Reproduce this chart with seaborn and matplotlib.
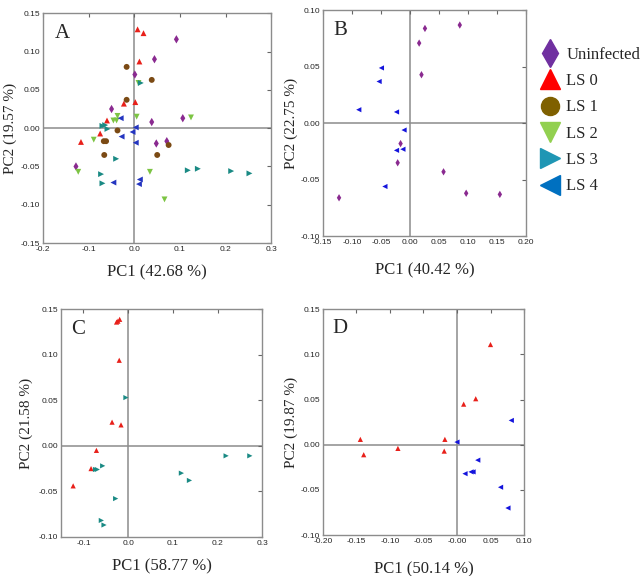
import pandas as pd
import numpy as np
import matplotlib
matplotlib.use("Agg")
import matplotlib.pyplot as plt
from matplotlib.lines import Line2D
from matplotlib.ticker import FormatStrFormatter
import seaborn as sns

sns.set_style("white")
plt.rcParams['font.family'] = ['Liberation Serif', 'DejaVu Serif']

groups = ["Uninfected", "LS 0", "LS 1", "LS 2", "LS 3", "LS 4"]

# Panel A scores (PC1, PC2) per group
a_uninf_x = [0.092, 0.044, 0.001, -0.050, 0.038, 0.106, 0.048, 0.071, -0.128]
a_uninf_y = [0.116, 0.090, 0.070, 0.025, 0.008, 0.013, -0.020, -0.017, -0.050]
a_ls0_x = [0.007, 0.020, 0.011, 0.002, -0.023, -0.060, -0.075, -0.117]
a_ls0_y = [0.129, 0.124, 0.087, 0.034, 0.032, 0.010, -0.007, -0.018]
a_ls1_x = [-0.017, 0.038, -0.017, -0.037, -0.067, -0.062, -0.066, 0.050, 0.075]
a_ls1_y = [0.080, 0.063, 0.037, -0.003, -0.017, -0.017, -0.035, -0.035, -0.022]
a_ls2_x = [0.009, -0.037, -0.046, -0.039, 0.005, 0.124, -0.089, -0.123, 0.034, 0.066]
a_ls2_y = [0.059, 0.016, 0.010, 0.010, 0.015, 0.014, -0.015, -0.057, -0.057, -0.093]
a_ls3_x = [0.014, -0.070, -0.064, -0.059, -0.040, -0.073, -0.070, 0.117, 0.139, 0.212, 0.252]
a_ls3_y = [0.059, 0.003, 0.004, -0.001, -0.040, -0.060, -0.072, -0.055, -0.053, -0.056, -0.059]
a_ls4_x = [-0.030, 0.003, -0.028, -0.004, 0.003, -0.046, 0.012, 0.010]
a_ls4_y = [0.013, 0.001, -0.011, -0.005, -0.019, -0.071, -0.067, -0.073]

# Panel B
b_uninf_x = [0.026, 0.086, 0.016, 0.020, -0.016, -0.021, 0.058, -0.122, 0.097, 0.155]
b_uninf_y = [0.084, 0.087, 0.071, 0.043, -0.018, -0.035, -0.043, -0.066, -0.062, -0.063]
b_ls4_x = [-0.049, -0.053, -0.088, -0.023, -0.010, -0.023, -0.012, -0.043]
b_ls4_y = [0.049, 0.037, 0.012, 0.010, -0.006, -0.024, -0.023, -0.056]

# Panel C
c_ls0_x = [-0.026, -0.019, -0.023, -0.020, -0.036, -0.016, -0.071, -0.083, -0.123]
c_ls0_y = [0.136, 0.139, 0.137, 0.094, 0.026, 0.023, -0.005, -0.025, -0.044]
c_ls3_x = [-0.005, -0.057, -0.073, -0.069, -0.028, -0.060, -0.054, 0.119, 0.137, 0.219, 0.272]
c_ls3_y = [0.053, -0.022, -0.026, -0.026, -0.058, -0.082, -0.087, -0.030, -0.038, -0.011, -0.011]

# Panel D
d_ls0_x = [0.050, 0.010, 0.028, -0.144, -0.139, -0.088, -0.018, -0.019]
d_ls0_y = [0.111, 0.045, 0.051, 0.006, -0.011, -0.004, 0.006, -0.007]
d_ls4_x = [0.081, 0.000, 0.031, 0.012, 0.021, 0.024, 0.065, 0.076]
d_ls4_y = [0.027, 0.003, -0.017, -0.032, -0.030, -0.030, -0.047, -0.070]

markers = {"Uninfected": "d", "LS 0": "^", "LS 1": "o", "LS 2": "v", "LS 3": ">", "LS 4": "<"}
pt_colors = {"Uninfected": "#8a2a90", "LS 0": "#e8201a", "LS 1": "#7b4a14",
             "LS 2": "#7cc443", "LS 3": "#1a8a84", "LS 4": "#2435c0"}
leg_colors = {"Uninfected": "#7030a0", "LS 0": "#ff0000", "LS 1": "#7f6000",
              "LS 2": "#92d050", "LS 3": "#1f96b4", "LS 4": "#0070c0"}


def make_df(pairs):
    rows = []
    for g, xs, ys in pairs:
        for x, y in zip(xs, ys):
            rows.append({"PC1": x, "PC2": y, "group": g})
    return pd.DataFrame(rows)


def style_ax(ax, xlim, ylim, xt, yt, xfmt, yfmt, xlab, ylab, letter, xpad=8, ypad=2):
    ax.axhline(0, color="#8c8c8c", lw=1.1, zorder=0)
    ax.axvline(0, color="#8c8c8c", lw=1.1, zorder=0)
    ax.set_xlim(xlim)
    ax.set_ylim(ylim)
    ax.set_xticks(xt)
    ax.set_yticks(yt)
    ax.xaxis.set_major_formatter(FormatStrFormatter(xfmt))
    ax.yaxis.set_major_formatter(FormatStrFormatter(yfmt))
    ax.tick_params(direction="in", length=3, width=0.8, color="#666666",
                   top=True, right=True, labelsize=6, pad=2)
    for lab in ax.get_xticklabels() + ax.get_yticklabels():
        lab.set_family(["Liberation Sans", "DejaVu Sans"])
    for s in ax.spines.values():
        s.set_color("#8c8c8c")
        s.set_linewidth(1.0)
    ax.set_xlabel(xlab, fontsize=12, labelpad=xpad)
    ax.set_ylabel(ylab, fontsize=11, labelpad=ypad)
    ax.text(0.05, 0.955, letter, transform=ax.transAxes, fontsize=15, va="top", ha="left")


fig = plt.figure(figsize=(6.43, 5.76), dpi=100)
axA = fig.add_axes([0.067, 0.578, 0.355, 0.399])
axB = fig.add_axes([0.502, 0.590, 0.316, 0.392])
axC = fig.add_axes([0.095, 0.068, 0.313, 0.395])
axD = fig.add_axes([0.502, 0.071, 0.313, 0.392])

panels = [
    (axA, make_df([("Uninfected", a_uninf_x, a_uninf_y), ("LS 0", a_ls0_x, a_ls0_y),
                   ("LS 1", a_ls1_x, a_ls1_y), ("LS 2", a_ls2_x, a_ls2_y),
                   ("LS 3", a_ls3_x, a_ls3_y), ("LS 4", a_ls4_x, a_ls4_y)]), 18),
    (axB, make_df([("Uninfected", b_uninf_x, b_uninf_y), ("LS 4", b_ls4_x, b_ls4_y)]), 14),
    (axC, make_df([("LS 0", c_ls0_x, c_ls0_y), ("LS 3", c_ls3_x, c_ls3_y)]), 14),
    (axD, make_df([("LS 0", d_ls0_x, d_ls0_y), ("LS 4", d_ls4_x, d_ls4_y)]), 14),
]

for ax, df, size in panels:
    pal = {g: pt_colors[g] for g in df["group"].unique()}
    if ax is not axA and "LS 4" in pal:
        pal["LS 4"] = "#1414dc"
    sns.scatterplot(data=df, x="PC1", y="PC2", hue="group", style="group",
                    palette=pal, markers={g: markers[g] for g in pal},
                    s=size, linewidth=0, legend=False, ax=ax, zorder=3)

style_ax(axA, (-0.2, 0.3), (-0.15, 0.15), np.arange(-0.2, 0.31, 0.1),
         np.arange(-0.15, 0.151, 0.05), "%.1f", "%.2f", "PC1 (42.68 %)", "PC2 (19.57 %)", "A",
         xpad=8.5, ypad=3)
style_ax(axB, (-0.15, 0.20), (-0.10, 0.10), np.arange(-0.15, 0.201, 0.05),
         np.arange(-0.10, 0.101, 0.05), "%.2f", "%.2f", "PC1 (40.42 %)", "PC2 (22.75 %)", "B",
         xpad=11.5)
style_ax(axC, (-0.15, 0.30), (-0.10, 0.15), np.arange(-0.1, 0.31, 0.1),
         np.arange(-0.10, 0.151, 0.05), "%.1f", "%.2f", "PC1 (58.77 %)", "PC2 (21.58 %)", "C",
         xpad=8.5, ypad=4)
style_ax(axD, (-0.20, 0.10), (-0.10, 0.15), np.arange(-0.20, 0.101, 0.05),
         np.arange(-0.10, 0.151, 0.05), "%.2f", "%.2f", "PC1 (50.14 %)", "PC2 (19.87 %)", "D",
         xpad=12)

handles = [Line2D([], [], marker=markers[g], color=leg_colors[g], linestyle="none",
                  markersize=14 if g != "LS 1" else 13) for g in groups]
fig.legend(handles, groups, loc="upper left", bbox_to_anchor=(0.812, 0.945),
           frameon=False, fontsize=12, handletextpad=0.15, labelspacing=0.62,
           handlelength=1.6)

fig.savefig("out.png", dpi=100)
